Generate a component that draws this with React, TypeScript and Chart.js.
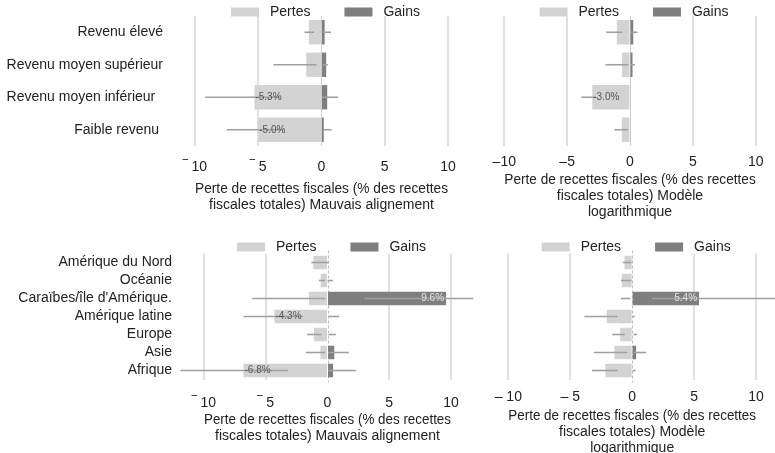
import React, { useEffect, useRef } from "react";
import { Chart, registerables } from "chart.js";

Chart.register(...registerables);

// ---------------- data ----------------
const SERIES = ["Pertes", "Gains"];

const INCOME_GROUPS = ["Revenu élevé", "Revenu moyen supérieur", "Revenu moyen inférieur  ", "Faible revenu "];
const REGIONS = ["Amérique du Nord", "Océanie", "Caraïbes/île d'Amérique.", "Amérique latine", "Europe", "Asie", "Afrique"];

// Top-left: income groups, "Mauvais alignement"
const INC_MIS_PERTES = [-1.0, -1.2, -5.3, -5.0];
const INC_MIS_GAINS = [0.25, 0.37, 0.45, 0.18];
const INC_MIS_PERTES_CI = [[-1.35, -0.6], [-3.8, -0.4], [-9.2, -3.25], [-7.5, -3.0]];
const INC_MIS_GAINS_CI = [[0.1, 0.75], [0.1, 0.5], [0.05, 1.3], [0.15, 0.8]];

// Top-right: income groups, "Modèle logarithmique"
const INC_LOG_PERTES = [-1.05, -0.63, -3.0, -0.65];
const INC_LOG_GAINS = [0.26, 0.2, 0, 0];
const INC_LOG_PERTES_CI = [[-1.9, -0.6], [-1.95, -0.13], [-3.86, -2.7], [-1.24, -0.18]];
const INC_LOG_GAINS_CI = [[0.1, 0.6], [0.1, 0.4], null, null];

// Bottom-left: regions, "Mauvais alignement"
const REG_MIS_PERTES = [-1.15, -0.55, -1.5, -4.3, -1.1, -0.57, -6.8];
const REG_MIS_GAINS = [0, 0, 9.6, 0, 0, 0.55, 0.45];
const REG_MIS_PERTES_CI = [[-1.3, 0.1], [-0.7, -0.2], [-6.1, -0.2], [-6.8, -2.0], [-1.65, -0.5], [-1.75, -0.2], [-11.9, -3.2]];
const REG_MIS_GAINS_CI = [null, [0, 0.45], [3.0, 11.8], [0.1, 0.95], [0.1, 0.67], [0.05, 1.72], [0.05, 2.3]];

// Bottom-right: regions, "Modèle logarithmique"
const REG_LOG_PERTES = [-0.62, -0.84, 0, -2.05, -0.97, -1.43, -2.16];
const REG_LOG_GAINS = [0, 0, 5.4, 0, 0, 0.32, 0];
const REG_LOG_PERTES_CI = [[-0.76, -0.05], [-0.9, -0.05], [-0.9, -0.15], [-3.86, -1.2], [-1.6, -0.6], [-3.1, -0.4], [-3.24, -1.2]];
const REG_LOG_GAINS_CI = [null, null, [1.6, 12.5], [0.05, 0.2], [0.1, 0.4], [0.05, 1.13], [0.05, 0.27]];

const X_TICK_VALUES = [-10, -5, 0, 5, 10];
const TICKS_OVERLINE = ["‾ 10", "‾ 5", "0", "5", "10"];
const TICKS_ENDASH = ["–10", "–5", "0", "5", "10"];
const TICKS_ENDASH_SPACED = ["– 10", "– 5", "0", "5", "10"];

const TITLE_MIS = ["Perte de recettes fiscales (% des recettes", "fiscales totales) Mauvais alignement"];
const TITLE_LOG = ["Perte de recettes fiscales (% des recettes", "fiscales totales) Modèle", "logarithmique"];

// ---------------- styles ----------------
const FONT = "'Liberation Sans', Arial, sans-serif";
const TEXT = "#222222";
const PERTES_COLOR = "#d3d3d3";
const GAINS_COLOR = "#7f7f7f";
const CI_COLOR = "#a0a0a0";
const GRID_COLOR = "#e0e0e0";

Chart.defaults.font.family = FONT;
Chart.defaults.color = TEXT;

const overlayPlugin: any = {
  id: "overlay",
  beforeDatasetsDraw(chart: any, _a: any, opts: any) {
    if (!opts.dashedZero) return;
    const ctx = chart.ctx;
    const x = Math.round(chart.scales.x.getPixelForValue(0)) + 0.5;
    const { top, bottom } = chart.chartArea;
    ctx.save();
    ctx.strokeStyle = "#bdbdbd";
    ctx.lineWidth = 1;
    ctx.setLineDash([3, 2]);
    ctx.beginPath();
    ctx.moveTo(x, top - 3);
    ctx.lineTo(x, bottom + 3);
    ctx.stroke();
    ctx.restore();
  },
  afterDatasetsDraw(chart: any) {
    const ctx = chart.ctx;
    const xs = chart.scales.x;
    const ys = chart.scales.y;
    ctx.save();
    ctx.strokeStyle = CI_COLOR;
    ctx.lineWidth = 1.6;
    chart.data.datasets.forEach((ds: any) => {
      (ds.ci || []).forEach((r: any, i: number) => {
        if (!r) return;
        const y = ys.getPixelForValue(i);
        ctx.beginPath();
        ctx.moveTo(xs.getPixelForValue(r[0]), y);
        ctx.lineTo(xs.getPixelForValue(r[1]), y);
        ctx.stroke();
      });
    });
    ctx.font = `10px ${FONT}`;
    ctx.textBaseline = "middle";
    chart.data.datasets.forEach((ds: any, di: number) => {
      const meta = chart.getDatasetMeta(di);
      meta.data.forEach((bar: any, i: number) => {
        const v = ds.data[i];
        if (Math.abs(v) < 2.5) return;
        const txt = `${v.toFixed(1)}%`;
        ctx.fillStyle = ds.labelColor;
        if (v < 0) {
          ctx.textAlign = "left";
          ctx.fillText(txt, bar.x + 1, bar.y);
        } else {
          ctx.textAlign = "right";
          ctx.fillText(txt, bar.x - 2, bar.y);
        }
      });
    });
    ctx.restore();
  },
  afterDraw(chart: any, _a: any, opts: any) {
    const ctx = chart.ctx;
    const { left, right } = chart.chartArea;
    const boxW = 28, boxH = 9, gapText = 11, gapItem = 34;
    ctx.save();
    ctx.font = `14px ${FONT}`;
    const items = chart.data.datasets.map((d: any) => ({
      label: d.label,
      color: d.backgroundColor,
      w: ctx.measureText(d.label).width,
    }));
    let total = 0;
    items.forEach((it: any, i: number) => {
      total += boxW + gapText + it.w + (i < items.length - 1 ? gapItem : 0);
    });
    let x = (left + right) / 2 + opts.legendDx - total / 2;
    const y = opts.legendY;
    ctx.textBaseline = "middle";
    ctx.textAlign = "left";
    items.forEach((it: any) => {
      ctx.fillStyle = it.color;
      ctx.fillRect(x, y - boxH / 2, boxW, boxH);
      x += boxW + gapText;
      ctx.fillStyle = TEXT;
      ctx.fillText(it.label, x, y);
      x += it.w + gapItem;
    });
    ctx.restore();
  },
};

type PanelCfg = {
  left: number; top: number; w: number; h: number;
  area: { l: number; r: number; t: number; b: number };
  categories: string[];
  pertes: number[]; gains: number[];
  pertesCi: any[]; gainsCi: any[];
  tickLabels: string[];
  title: string[];
  tickPad: number; titlePadBottom: number;
  legendY: number; showY: boolean; dashedZero: boolean;
};

const PANELS: PanelCfg[] = [
  {
    left: 0, top: 0, w: 470, h: 225,
    area: { l: 195, r: 448, t: 16, b: 146 },
    categories: INCOME_GROUPS,
    pertes: INC_MIS_PERTES, gains: INC_MIS_GAINS,
    pertesCi: INC_MIS_PERTES_CI, gainsCi: INC_MIS_GAINS_CI,
    tickLabels: TICKS_OVERLINE, title: TITLE_MIS,
    tickPad: 13, titlePadBottom: 12, legendY: 12, showY: true, dashedZero: false,
  },
  {
    left: 470, top: 0, w: 305, h: 225,
    area: { l: 34.3, r: 285.7, t: 16, b: 146 },
    categories: INCOME_GROUPS,
    pertes: INC_LOG_PERTES, gains: INC_LOG_GAINS,
    pertesCi: INC_LOG_PERTES_CI, gainsCi: INC_LOG_GAINS_CI,
    tickLabels: TICKS_ENDASH, title: TITLE_LOG,
    tickPad: 8, titlePadBottom: 4.5, legendY: 12, showY: false, dashedZero: false,
  },
  {
    left: 0, top: 225, w: 480, h: 228,
    area: { l: 204, r: 451, t: 28.5, b: 154.5 },
    categories: REGIONS,
    pertes: REG_MIS_PERTES, gains: REG_MIS_GAINS,
    pertesCi: REG_MIS_PERTES_CI, gainsCi: REG_MIS_GAINS_CI,
    tickLabels: TICKS_OVERLINE, title: TITLE_MIS,
    tickPad: 15.5, titlePadBottom: 8.5, legendY: 22, showY: true, dashedZero: true,
  },
  {
    left: 480, top: 225, w: 295, h: 240,
    area: { l: 28.3, r: 276, t: 28.5, b: 154.5 },
    categories: REGIONS,
    pertes: REG_LOG_PERTES, gains: REG_LOG_GAINS,
    pertesCi: REG_LOG_PERTES_CI, gainsCi: REG_LOG_GAINS_CI,
    tickLabels: TICKS_ENDASH_SPACED, title: TITLE_LOG,
    tickPad: 8.8, titlePadBottom: 8.5, legendY: 22, showY: false, dashedZero: true,
  },
];

function buildConfig(p: PanelCfg): any {
  return {
    type: "bar",
    data: {
      labels: p.categories,
      datasets: [
        { label: SERIES[0], data: p.pertes, backgroundColor: PERTES_COLOR, ci: p.pertesCi, labelColor: "#555555" },
        { label: SERIES[1], data: p.gains, backgroundColor: GAINS_COLOR, ci: p.gainsCi, labelColor: "#e4e4e4" },
      ],
    },
    options: {
      indexAxis: "y",
      responsive: false,
      maintainAspectRatio: false,
      animation: false,
      layout: {
        padding: { top: p.area.t, right: p.w - p.area.r, left: 0, bottom: 0 },
      },
      datasets: { bar: { categoryPercentage: 1, barPercentage: 0.75, borderWidth: 0 } },
      plugins: {
        legend: { display: false },
        tooltip: { enabled: false },
        overlay: { dashedZero: p.dashedZero, legendY: p.legendY, legendDx: 4 },
      },
      scales: {
        x: {
          type: "linear",
          min: -10,
          max: 10,
          stacked: true,
          afterBuildTicks: (s: any) => {
            s.ticks = X_TICK_VALUES.map((v) => ({ value: v }));
          },
          afterFit: (s: any) => {
            s.height = p.h - p.area.b;
            s.paddingLeft = 0;
            s.paddingRight = 0;
          },
          ticks: {
            padding: p.tickPad,
            font: { size: 14 },
            color: TEXT,
            maxRotation: 0,
            autoSkip: false,
            callback: (_v: any, i: number) => p.tickLabels[i],
          },
          grid: {
            drawTicks: false,
            color: (c: any) =>
              c.tick && c.tick.value === 0 ? (p.dashedZero ? "rgba(0,0,0,0)" : "#cfcfcf") : GRID_COLOR,
            lineWidth: (c: any) => (c.tick && c.tick.value === 0 ? 1 : 2),
          },
          border: { display: false },
          title: {
            display: true,
            text: p.title,
            color: TEXT,
            font: { size: 14, lineHeight: "16px" },
            padding: { top: 0, bottom: p.titlePadBottom },
          },
        },
        y: {
          type: "category",
          stacked: true,
          display: true,
          afterFit: (s: any) => {
            s.width = p.area.l;
            s.paddingTop = 0;
            s.paddingBottom = 0;
          },
          ticks: { display: p.showY, padding: 32, font: { size: 14 }, color: TEXT, autoSkip: false },
          grid: { display: false, drawTicks: false },
          border: { display: false },
        },
      },
    },
    plugins: [overlayPlugin],
  };
}

function Panel({ cfg }: { cfg: PanelCfg }) {
  const ref = useRef<HTMLCanvasElement | null>(null);
  useEffect(() => {
    if (!ref.current) return;
    const chart = new Chart(ref.current, buildConfig(cfg));
    return () => chart.destroy();
  }, [cfg]);
  return (
    <canvas
      ref={ref}
      width={cfg.w}
      height={cfg.h}
      style={{ position: "absolute", left: cfg.left, top: cfg.top, width: cfg.w, height: cfg.h }}
    />
  );
}

export default function App() {
  return (
    <div
      style={{
        position: "absolute",
        left: 0,
        top: 0,
        width: 775,
        height: 453,
        overflow: "hidden",
        background: "#ffffff",
      }}
    >
      {PANELS.map((p, i) => (
        <Panel key={i} cfg={p} />
      ))}
    </div>
  );
}
